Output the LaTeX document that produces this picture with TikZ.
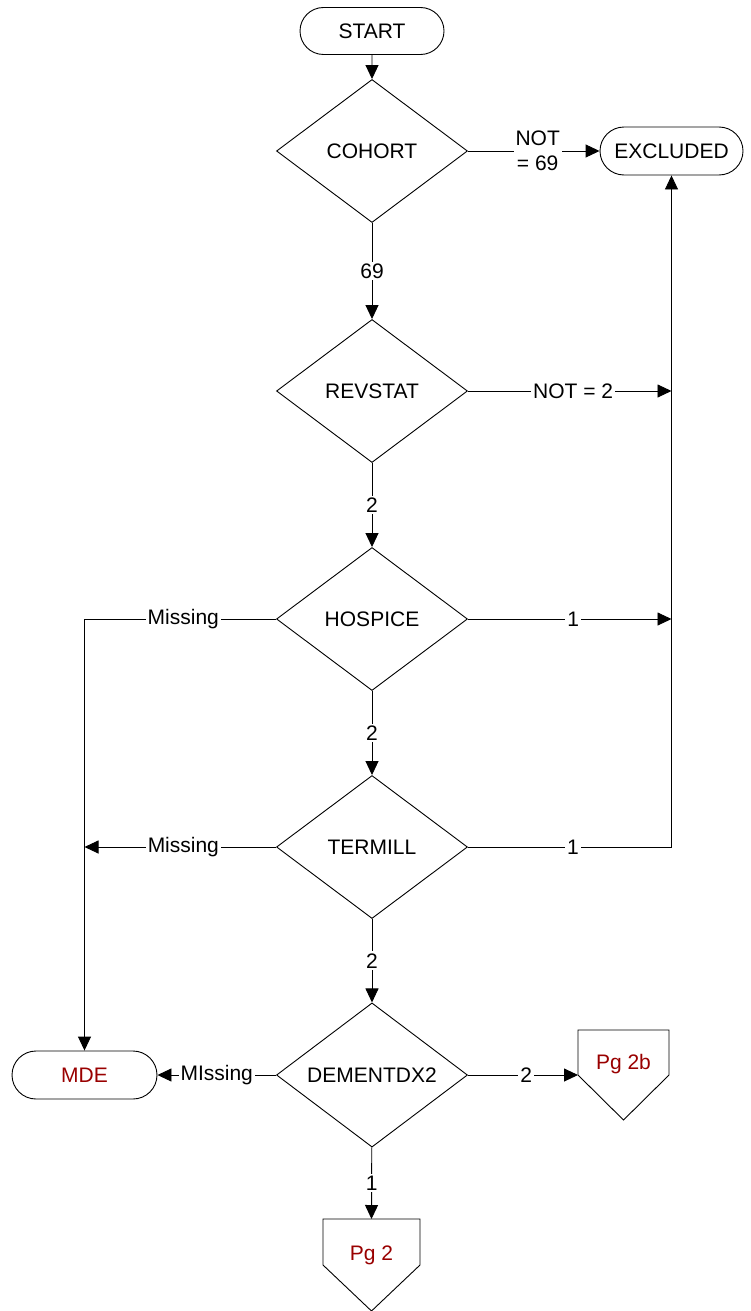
\documentclass[tikz,border=0pt]{standalone}
\usepackage{fontspec}
\setmainfont{Liberation Sans}
\usetikzlibrary{shapes.geometric,shapes.misc,arrows.meta,calc}
\definecolor{pgred}{RGB}{153,0,0}
\begin{document}
\begin{tikzpicture}[x=1pt,y=-1pt,
  every node/.style={font=\fontsize{21}{25}\selectfont},
  line/.style={draw=black, line width=0.9pt},
  arr/.style={line, -{Triangle[length=14pt,width=13pt]}},
  term/.style={rounded rectangle, draw, line width=0.9pt, minimum width=144pt, minimum height=47pt, inner sep=0pt},
  dec/.style={diamond, draw, line width=0.9pt, minimum width=191pt, minimum height=143pt, inner sep=0pt},
  lbl/.style={fill=white, inner sep=2pt},
  offpage/.style={inner sep=0pt, outer sep=0pt, text=pgred},
  pent/.style={draw, line width=0.9pt}
]
\useasboundingbox (0,0) rectangle (750,1311);

\node[term] (start) at (372,31) {START};
\node[dec] (cohort) at (372,151) {COHORT};
\node[term, minimum width=143pt, minimum height=48pt] (excl) at (671.5,151) {EXCLUDED};
\node[dec] (rev) at (372,391) {REVSTAT};
\node[dec] (hosp) at (372,619) {HOSPICE};
\node[dec] (term) at (372,847) {TERMILL};
\node[dec] (dem) at (372,1075) {DEMENTDX2};
\node[term, minimum width=145pt, minimum height=48pt, text=pgred] (mde) at (84.5,1075) {MDE};

\node[offpage, minimum width=91pt, minimum height=90pt] (pg2b) at (623.5,1075) {\raisebox{11pt}[\height][\depth]{Pg 2b}};
\draw[pent] (pg2b.north west) -- (pg2b.north east) -- (pg2b.east) -- (pg2b.south) -- (pg2b.west) -- cycle;
\node[offpage, minimum width=97pt, minimum height=92pt] (pg2) at (371.5,1265) {\raisebox{10pt}[\height][\depth]{Pg 2}};
\draw[pent] (pg2.north west) -- (pg2.north east) -- (pg2.east) -- (pg2.south) -- (pg2.west) -- cycle;

\draw[arr] (start) -- (cohort);
\draw[arr] (cohort) -- node[lbl]{69} (rev);
\draw[arr] (cohort) -- node[lbl, align=center, pos=0.53]{NOT\\= 69} (excl);
\draw[arr] (rev.east) -- node[lbl, pos=0.517]{NOT = 2} (rev.east -| excl.south);
\draw[arr] (rev) -- node[lbl]{2} (hosp);
\draw[arr] (hosp.east) -- node[lbl, pos=0.517]{1} (hosp.east -| excl.south);
\draw[arr] (hosp.west) -| node[lbl, pos=0.242]{Missing} (mde.north);
\draw[arr] (hosp) -- node[lbl]{2} (term);
\draw[arr] (term.east) -| node[lbl, pos=0.258]{1} (excl.south);
\draw[arr] (term.west) -- node[lbl, pos=0.484]{Missing} (term.west -| mde.north);
\draw[arr] (term) -- node[lbl]{2} (dem);
\draw[arr] (dem.west) -- node[lbl]{MIssing} (mde.east);
\draw[arr] (dem.east) -- node[lbl, pos=0.53]{2} (pg2b.west);
\draw[arr] (dem) -- node[lbl]{1} (pg2.north);
\end{tikzpicture}
\end{document}
